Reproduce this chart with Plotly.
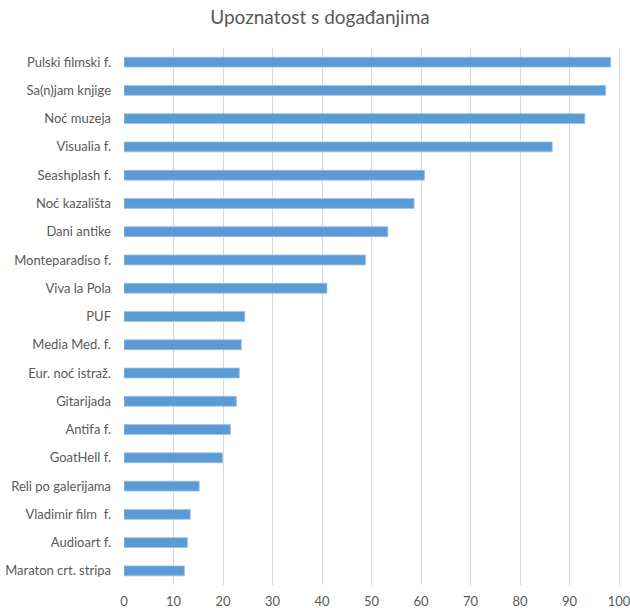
import plotly.graph_objects as go

categories = [
    "Pulski filmski f.", "Sa(n)jam knjige", "Noć muzeja", "Visualia f.",
    "Seashplash f.", "Noć kazališta", "Dani antike", "Monteparadiso f.",
    "Viva la Pola", "PUF", "Media Med. f.", "Eur. noć istraž.", "Gitarijada",
    "Antifa f.", "GoatHell f.", "Reli po galerijama", "Vladimir film  f.",
    "Audioart f.", "Maraton crt. stripa",
]
values = [98.3, 97.3, 93.1, 86.5, 60.7, 58.6, 53.3, 48.8, 41.0, 24.4,
          23.7, 23.3, 22.7, 21.5, 19.9, 15.2, 13.4, 12.8, 12.2]
x_ticks = [0, 10, 20, 30, 40, 50, 60, 70, 80, 90, 100]

fig = go.Figure(go.Bar(
    y=categories, x=values, orientation="h",
    width=0.35,
    marker=dict(color="#5b9bd5", line=dict(color="#9dc3e6", width=0.8)),
))

font_family = "Lato, 'Open Sans', sans-serif"
fig.update_layout(
    width=630, height=608,
    margin=dict(l=123.5, r=9.3, t=48, b=23, autoexpand=False),
    paper_bgcolor="white", plot_bgcolor="white",
    title=dict(text="Upoznatost s događanjima", x=320 / 630, xanchor="center",
               xref="container", y=1 - 17 / 608, yanchor="middle",
               font=dict(family=font_family, size=19, color="#595959")),
    font=dict(family=font_family, size=13, color="#595959"),
    showlegend=False,
)
fig.update_xaxes(range=[0, 100.4], tickvals=x_ticks, showgrid=True,
                 gridcolor="#d9d9d9", gridwidth=1, zeroline=False,
                 showline=False, ticks="", ticklabelstandoff=7,
                 automargin=False, ticklabeloverflow="allow",
                 tickfont=dict(size=13, color="#595959"))
fig.update_yaxes(categoryorder="array", categoryarray=categories,
                 autorange="reversed", showgrid=False, zeroline=False,
                 showline=False, ticks="", ticklabelstandoff=12,
                 automargin=False, ticklabeloverflow="allow",
                 tickfont=dict(size=13, color="#595959"))

fig.write_html("out.html", config={"displayModeBar": False},
               post_script="document.body.style.margin='0';")
